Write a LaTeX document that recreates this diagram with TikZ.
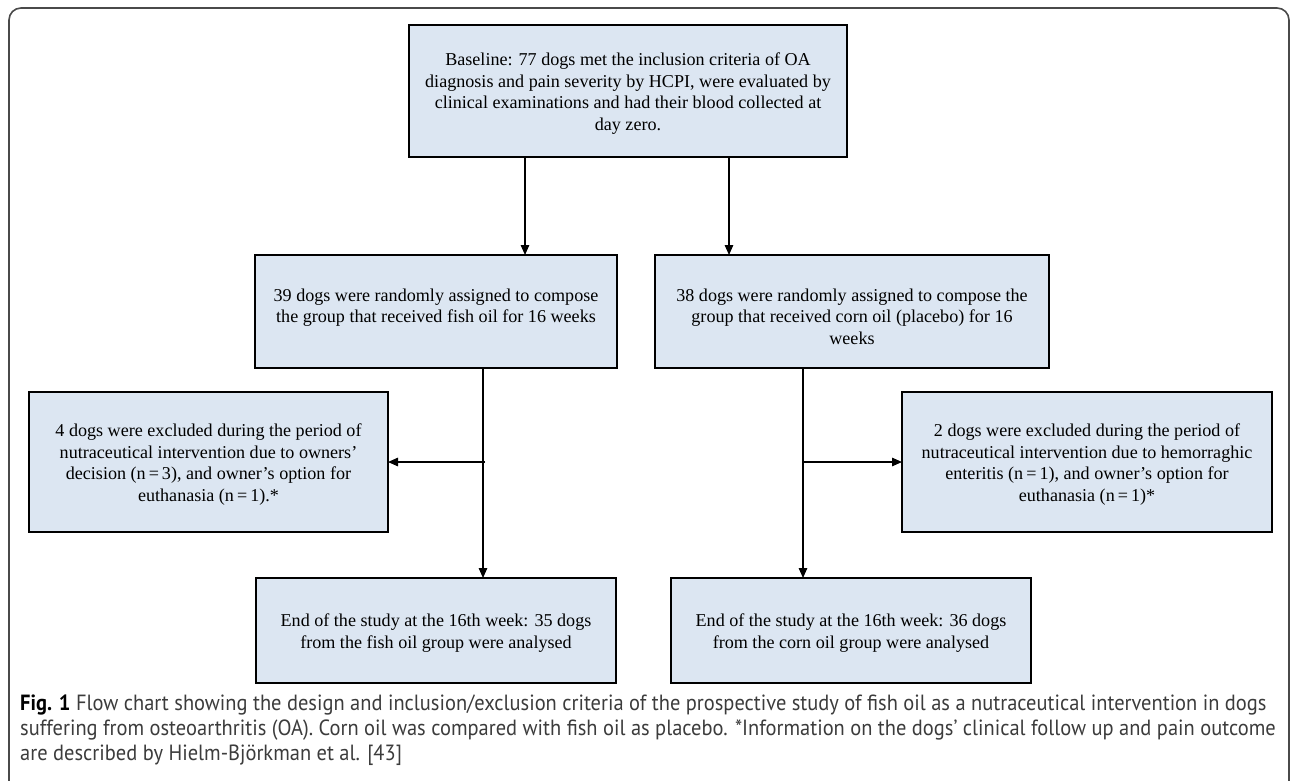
\documentclass[tikz,border=0pt]{standalone}
\usepackage{fontspec}
\setmainfont{Liberation Serif}
\newfontfamily\capfont[FakeStretch=0.93]{PT Sans}
\usetikzlibrary{arrows.meta}
\definecolor{boxfill}{HTML}{DCE6F2}
\definecolor{capgray}{HTML}{3C3C3C}
\definecolor{framegray}{HTML}{4A4A4A}
\tikzset{
  flowbox/.style={draw=black, line width=1.5pt, fill=boxfill, inner sep=0pt, outer sep=0pt, anchor=north west},
  boxtext/.style={anchor=north, align=center, inner sep=0pt, font=\fontsize{18.1}{21.7}\selectfont},
  conn/.style={line width=1.3pt, -{Triangle[length=10pt,width=8.5pt]}},
  capline/.style={anchor=base west, inner sep=0pt, font=\capfont\fontsize{22}{25}\selectfont, text=capgray}
}
\begin{document}
\begin{tikzpicture}[x=1pt,y=-1pt]
\useasboundingbox (0,0) rectangle (1290,780);
\fill[white] (0,0) rectangle (1290,780);
% outer frame
\draw[framegray, line width=1.6pt, rounded corners=12pt] (9,8) rectangle (1289,800);

% boxes
\node[flowbox, minimum width=438pt, minimum height=132pt] (top)  at (409,25) {};
\node[flowbox, minimum width=362pt, minimum height=113pt] (midL) at (255,255) {};
\node[flowbox, minimum width=394pt, minimum height=113pt] (midR) at (655,255) {};
\node[flowbox, minimum width=359pt, minimum height=140pt] (exL)  at (29,392) {};
\node[flowbox, minimum width=370pt, minimum height=140pt] (exR)  at (902,392) {};
\node[flowbox, minimum width=360pt, minimum height=105pt] (botL) at (256,578) {};
\node[flowbox, minimum width=360pt, minimum height=105pt] (botR) at (671,578) {};

% texts
\node[boxtext] (ttop) at ([yshift=-27.5pt]top.north) {Baseline: 77 dogs met the inclusion criteria of OA\\diagnosis and pain severity by HCPI, were evaluated by\\clinical examinations and had their blood collected at\\day zero.};
\node[boxtext] (tmidL) at ([yshift=-33.5pt]midL.north) {39 dogs were randomly assigned to compose\\the group that received fish oil for 16 weeks};
\node[boxtext] (tmidR) at ([yshift=-33.5pt]midR.north) {38 dogs were randomly assigned to compose the\\group that received corn oil (placebo) for 16\\weeks};
\node[boxtext] (texL) at ([yshift=-31.5pt]exL.north) {4 dogs were excluded during the period of\\nutraceutical intervention due to owners’\\decision (n\,=\,3), and owner’s option for\\euthanasia (n\,=\,1).*};
\node[boxtext] (texR) at ([yshift=-31.5pt]exR.north) {2 dogs were excluded during the period of\\nutraceutical intervention due to hemorraghic\\enteritis (n\,=\,1), and owner’s option for\\euthanasia (n\,=\,1)*};
\node[boxtext] (tbotL) at ([yshift=-35.5pt]botL.north) {End of the study at the 16th week: 35 dogs\\from the fish oil group were analysed};
\node[boxtext] (tbotR) at ([yshift=-35.5pt]botR.north) {End of the study at the 16th week: 36 dogs\\from the corn oil group were analysed};

% connector columns
\coordinate (c1) at (525,0);
\coordinate (c2) at (729,0);
\coordinate (c3) at (483,0);
\coordinate (c4) at (803,0);

\draw[conn] (top.south -| c1) -- (midL.north -| c1);
\draw[conn] (top.south -| c2) -- (midR.north -| c2);
\draw[conn] (midL.south -| c3) -- (botL.north -| c3);
\draw[conn] (midR.south -| c4) -- (botR.north -| c4);
\draw[conn] ([xshift=2pt]c3 |- exL.east) -- (exL.east);
\draw[conn] (c4 |- exR.west) -- (exR.west);

% caption
\node[capline] (cap1) at (20,710) {\textcolor{black}{\textbf{Fig. 1}} Flow chart showing the design and inclusion/exclusion criteria of the prospective study of fish oil as a nutraceutical intervention in dogs};
\node[capline] (cap2) at (20,735) {suffering from osteoarthritis (OA). Corn oil was compared with fish oil as placebo. *Information on the dogs’ clinical follow up and pain outcome};
\node[capline] (cap3) at (20,760) {are described by Hielm-Björkman et al. [43]};
\end{tikzpicture}
\end{document}
